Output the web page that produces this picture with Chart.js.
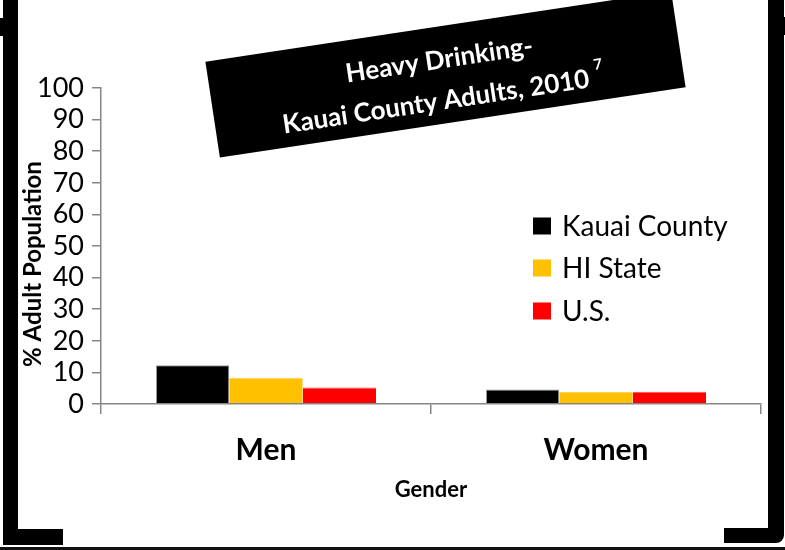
<!DOCTYPE html>
<html>
<head>
<meta charset="utf-8">
<title>Heavy Drinking - Kauai County Adults, 2010</title>
<script src="https://cdn.jsdelivr.net/npm/chart.js@4.4.1/dist/chart.umd.min.js"></script>
<style>
  html, body { margin: 0; padding: 0; background: #fff; }
  #wrap { width: 785px; height: 550px; position: relative; }
</style>
</head>
<body>
<div id="wrap"><canvas id="chart" width="785" height="550"></canvas></div>
<script>
// data
const genders = ["Men", "Women"];
const kauaiCounty = [12.3, 4.6];
const hiState = [8.3, 3.8];
const usValues = [5.2, 3.9];
const yTicks = [0, 10, 20, 30, 40, 50, 60, 70, 80, 90, 100];

const seriesNames = ["Kauai County", "HI State", "U.S."];
const seriesColors = ["#000000", "#FFC000", "#FF0000"];

const titleLines = ["Heavy Drinking-", "Kauai County Adults, 2010"];
const titleNote = "7";
const yAxisTitle = "% Adult Population";
const xAxisTitle = "Gender";

const FONT = "Lato, 'Noto Sans', sans-serif";
const AXIS_GREY = "#868686";

// frame, title box, legend and y title drawn straight on the canvas
const decorPlugin = {
    id: "decor",
    beforeDraw(chart) {
        const ctx = chart.ctx;
        ctx.save();
        ctx.fillStyle = "#fff";
        ctx.fillRect(0, 0, chart.width, chart.height);

        ctx.fillStyle = "#000";
        // left bracket
        ctx.beginPath();
        ctx.roundRect(3, -10, 15, 555, [0, 0, 0, 8]);
        ctx.fill();
        ctx.fillRect(0, 18, 4, 18);
        ctx.fillRect(3, 529, 60, 16);
        // right bracket
        ctx.beginPath();
        ctx.roundRect(768, -10, 16, 553, [0, 0, 8, 0]);
        ctx.fill();
        ctx.fillRect(783, 17, 2, 18);
        ctx.fillRect(724, 528, 50, 15);
        // bottom edge
        ctx.fillStyle = "#111";
        ctx.fillRect(0, 547, chart.width, 3);
        ctx.restore();
    },
    afterDraw(chart) {
        const ctx = chart.ctx;
        ctx.save();

        // y axis title
        ctx.save();
        ctx.translate(33, 264);
        ctx.rotate(-Math.PI / 2);
        ctx.fillStyle = "#000";
        ctx.font = "bold 24px " + FONT;
        ctx.textAlign = "center";
        ctx.textBaseline = "middle";
        ctx.fillText(yAxisTitle, 0, 0);
        ctx.restore();

        // legend inside the plot
        ctx.font = "28px " + FONT;
        ctx.textAlign = "left";
        ctx.textBaseline = "middle";
        const rows = [226, 268, 311];
        chart.data.datasets.forEach((ds, i) => {
            ctx.fillStyle = ds.backgroundColor;
            ctx.fillRect(533, rows[i] - 8.5, 18, 17);
            ctx.fillStyle = "#000";
            ctx.fillText(ds.label, 562, rows[i] + 1);
        });

        // tilted black title box
        ctx.translate(445.5, 74.4);
        ctx.rotate(-8.6 * Math.PI / 180);
        ctx.fillStyle = "#000";
        ctx.fillRect(-235.5, -48.5, 471, 97);

        ctx.fillStyle = "#fff";
        ctx.textBaseline = "middle";
        ctx.font = "bold 26px " + FONT;
        ctx.textAlign = "center";
        ctx.fillText(titleLines[0], -4, -15);

        const main = titleLines[1];
        const mainW = ctx.measureText(main).width;
        const gap = ctx.measureText(" ").width;
        ctx.font = "bold 15px " + FONT;
        const noteW = ctx.measureText(titleNote).width;
        const total = mainW + gap + noteW;
        const x0 = -6 - total / 2;
        ctx.textAlign = "left";
        ctx.font = "bold 26px " + FONT;
        ctx.fillText(main, x0, 26);
        ctx.font = "bold 15px " + FONT;
        ctx.fillText(titleNote, x0 + mainW + gap, 13);

        ctx.restore();
    }
};

const chart = new Chart(document.getElementById("chart"), {
    type: "bar",
    data: {
        labels: genders,
        datasets: [
            { label: seriesNames[0], data: kauaiCounty, backgroundColor: seriesColors[0],
              borderColor: "#9a9a9a", borderWidth: 1, borderSkipped: "bottom" },
            { label: seriesNames[1], data: hiState, backgroundColor: seriesColors[1],
              borderColor: "#ffd24d", borderWidth: { top: 1 }, borderSkipped: "bottom" },
            { label: seriesNames[2], data: usValues, backgroundColor: seriesColors[2],
              borderColor: "#ff5050", borderWidth: { top: 1 }, borderSkipped: "bottom" }
        ]
    },
    options: {
        responsive: false,
        animation: false,
        layout: { padding: { left: 0, top: 88, right: 24, bottom: 0 } },
        datasets: { bar: { categoryPercentage: 0.667, barPercentage: 1.0 } },
        plugins: {
            legend: { display: false },
            tooltip: { enabled: false },
            title: { display: false }
        },
        scales: {
            x: {
                offset: true,
                grid: { offset: true, drawOnChartArea: false, tickLength: 10, color: AXIS_GREY, lineWidth: 1.5 },
                border: { color: AXIS_GREY, width: 1.5, z: 1 },
                ticks: { color: "#000", padding: 18, font: { family: FONT, size: 30, weight: "bold" } },
                title: {
                    display: true, text: xAxisTitle, color: "#000",
                    font: { family: FONT, size: 22, weight: "bold" },
                    padding: { top: 0, bottom: 47 }
                },
                afterFit: scale => { scale.height = 146; }
            },
            y: {
                min: 0,
                max: 100,
                afterBuildTicks: scale => { scale.ticks = yTicks.map(v => ({ value: v })); },
                grid: { drawOnChartArea: false, tickLength: 9, color: AXIS_GREY, lineWidth: 1.5 },
                border: { color: AXIS_GREY, width: 1.5 },
                ticks: { color: "#000", padding: 8, autoSkip: false, font: { family: FONT, size: 27 } },
                afterFit: scale => { scale.width = 101; }
            }
        }
    },
    plugins: [decorPlugin]
});
</script>
</body>
</html>
